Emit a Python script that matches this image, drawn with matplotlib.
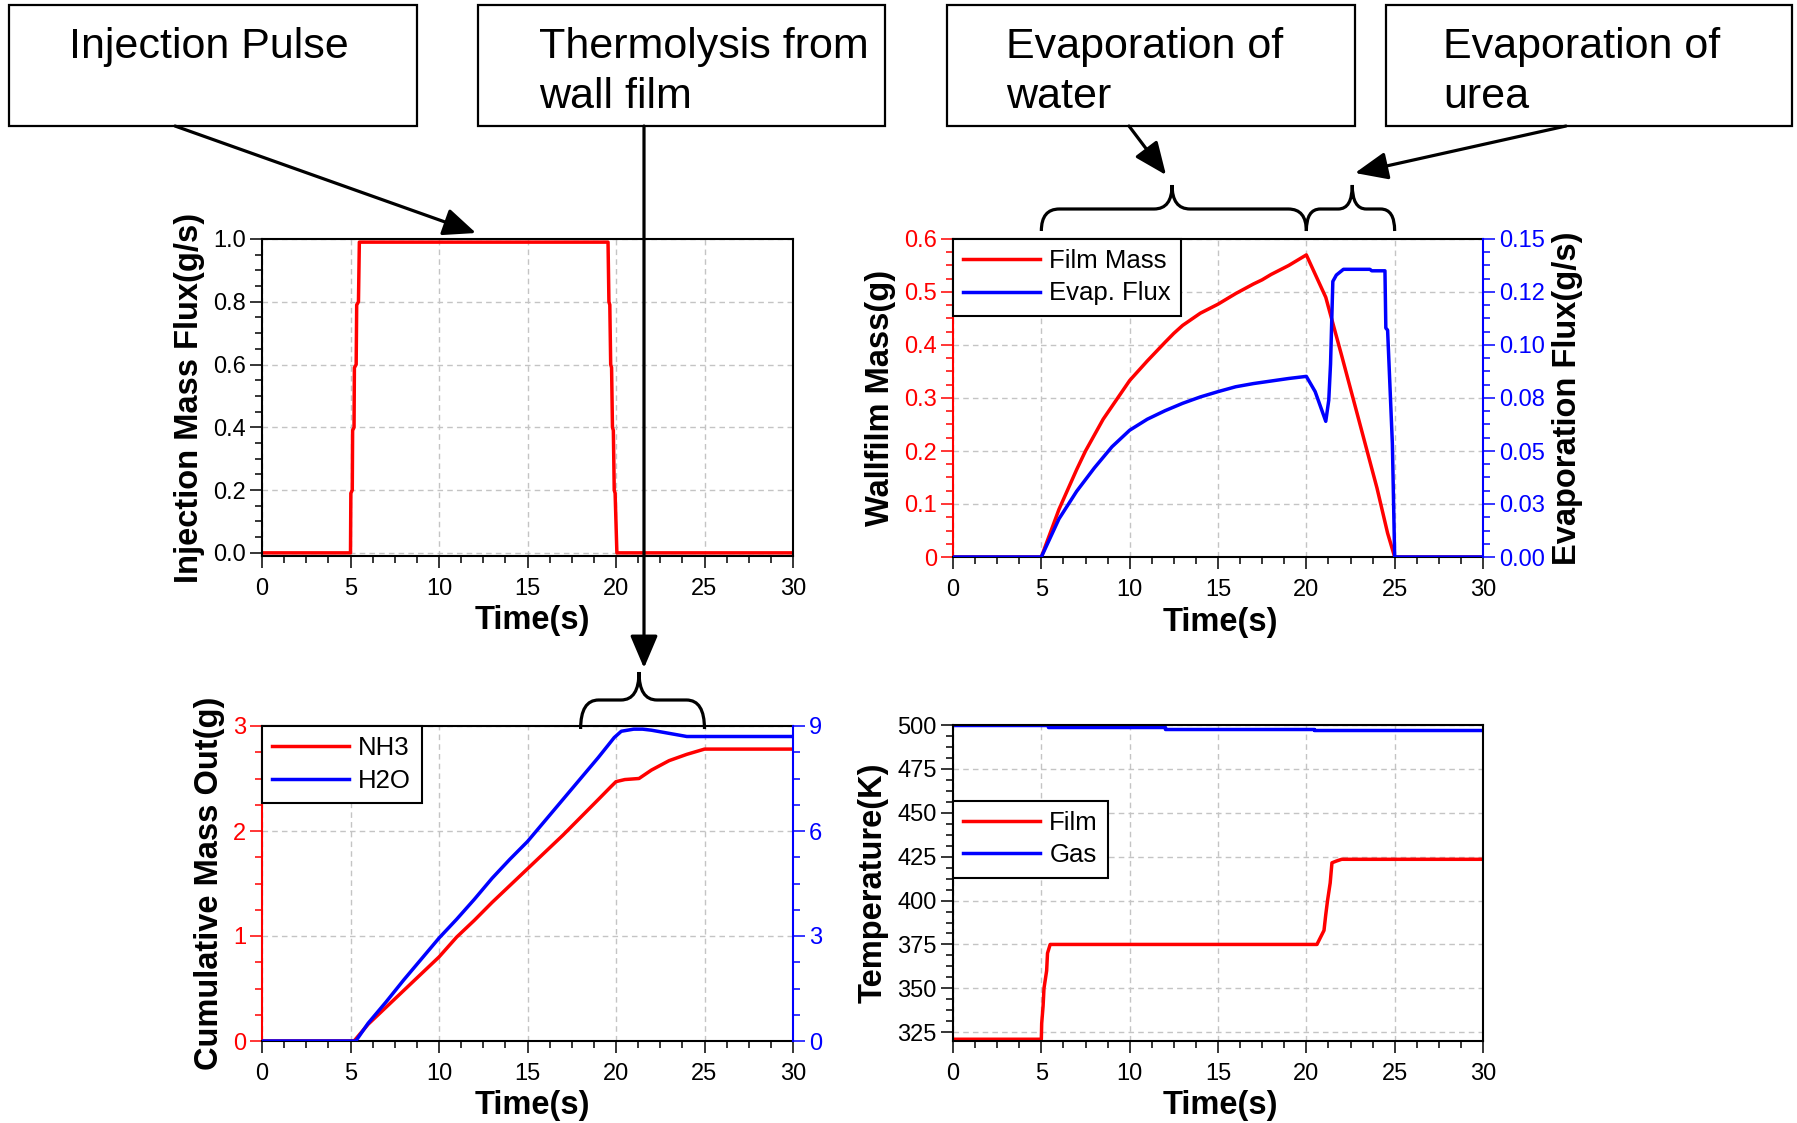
import matplotlib
matplotlib.use("Agg")
import matplotlib.pyplot as plt
from matplotlib.ticker import MultipleLocator, FixedLocator, FixedFormatter
from matplotlib.patches import Rectangle, FancyArrowPatch, PathPatch, ArrowStyle
from matplotlib.path import Path

# ---------------- data ----------------
# Injection pulse (g/s)
inj_time = [0, 5.0, 5.02, 5.1, 5.12, 5.2, 5.22, 5.32, 5.35, 5.45, 5.5,
            19.55, 19.6, 19.65, 19.7, 19.75, 19.8, 19.85, 19.9, 19.95, 20.05, 30]
inj_flux = [0, 0, 0.19, 0.20, 0.39, 0.40, 0.59, 0.60, 0.79, 0.80, 0.99,
            0.99, 0.80, 0.79, 0.60, 0.59, 0.40, 0.39, 0.20, 0.19, 0, 0]

# Wall film mass (g)
film_time = [0, 5, 6, 7, 7.5, 8.5, 10, 11, 12, 12.5, 13, 14, 15, 16, 17, 17.5,
             18, 19, 20, 21.1, 22, 23, 24, 24.6, 25, 30]
film_mass = [0, 0, 0.09, 0.165, 0.2, 0.26, 0.333, 0.37, 0.405, 0.422, 0.437,
             0.46, 0.477, 0.497, 0.515, 0.523, 0.533, 0.55, 0.57, 0.49, 0.38,
             0.255, 0.13, 0.045, 0, 0]

# Evaporation flux (g/s)
evap_time = [0, 5, 5.5, 6, 7, 8, 9, 10, 11, 12, 13, 14, 15, 16, 17, 18, 19,
             20, 20.5, 21.1, 21.27, 21.37, 21.5, 21.7, 22.1, 23.6, 23.7,
             24.45, 24.5, 24.6, 24.87, 25, 30]
evap_flux = [0, 0, 0.009, 0.018, 0.031, 0.042, 0.052, 0.0598, 0.065, 0.069,
             0.0725, 0.0755, 0.078, 0.0803, 0.0818, 0.083, 0.0842, 0.0852,
             0.078, 0.064, 0.074, 0.091, 0.13, 0.133, 0.1357, 0.1357, 0.135,
             0.135, 0.108, 0.107, 0.0535, 0, 0]

# Cumulative mass out: NH3 on the left scale (g), H2O on the right scale
nh3_time = [0, 5.2, 6, 7, 8, 9, 10, 11, 12, 13, 14, 15, 16, 17, 18, 19, 19.7,
            20, 20.5, 21.3, 22, 23, 24, 25, 30]
nh3_mass = [0, 0, 0.16, 0.32, 0.48, 0.64, 0.80, 0.99, 1.15, 1.32, 1.48, 1.64,
            1.80, 1.96, 2.13, 2.30, 2.42, 2.47, 2.49, 2.50, 2.58, 2.67, 2.73,
            2.78, 2.78]
h2o_time = [0, 5.3, 6, 7, 8, 9, 10, 11, 12, 13, 14, 15, 16, 17, 18, 19, 19.9,
            20.3, 21, 21.5, 22, 23, 24, 30]
h2o_mass = [0, 0, 0.51, 1.11, 1.74, 2.34, 2.94, 3.48, 4.05, 4.65, 5.19, 5.70,
            6.30, 6.90, 7.50, 8.10, 8.67, 8.85, 8.91, 8.91, 8.88, 8.79, 8.70,
            8.70]

# Temperatures (K)
film_temp_time = [0, 5.0, 5.02, 5.1, 5.15, 5.3, 5.35, 5.5, 20.6, 20.8, 21.0,
                  21.1, 21.2, 21.35, 21.45, 21.7, 22.0, 30]
film_temp = [321, 321, 330, 340, 350, 360, 370, 375, 375, 379, 383, 392, 400,
             410, 421.5, 422.5, 423.5, 423.5]
gas_temp_time = [0, 5.35, 5.35, 12.0, 12.0, 20.45, 20.45, 30]
gas_temp = [500, 500, 499, 499, 498, 498, 497, 497]

x_ticks = [0, 5, 10, 15, 20, 25, 30]
inj_ticks = [0.0, 0.2, 0.4, 0.6, 0.8, 1.0]
inj_labels = ["0.0", "0.2", "0.4", "0.6", "0.8", "1.0"]
wall_ticks = [0, 0.1, 0.2, 0.3, 0.4, 0.5, 0.6]
wall_labels = ["0", "0.1", "0.2", "0.3", "0.4", "0.5", "0.6"]
evap_ticks = [0, 0.025, 0.05, 0.075, 0.1, 0.125, 0.15]
evap_labels = ["0.00", "0.03", "0.05", "0.08", "0.10", "0.12", "0.15"]
cum_ticks = [0, 1, 2, 3]
h2o_ticks = [0, 3, 6, 9]
temp_ticks = [325, 350, 375, 400, 425, 450, 475, 500]

# ---------------- style ----------------
W, H = 1797, 1123
RED = "#ff0000"
BLUE = "#0000ff"
REG = ["Liberation Sans", "DejaVu Sans"]
plt.rcParams["font.family"] = REG

TICK_FS = 17
LAB_FS = 23.5
LW = 2.5

fig = plt.figure(figsize=(W / 100, H / 100), dpi=100)
fig.patch.set_facecolor("white")


def px_rect(left, top, right, bottom):
    return [left / W, 1 - bottom / H, (right - left) / W, (bottom - top) / H]


def style_axes(ax):
    ax.set_xlim(0, 30)
    ax.xaxis.set_major_locator(FixedLocator(x_ticks))
    ax.xaxis.set_minor_locator(MultipleLocator(1.25))
    ax.tick_params(axis="x", which="major", direction="out", length=8.6,
                   width=1.1, labelsize=TICK_FS, pad=7)
    ax.tick_params(axis="x", which="minor", direction="out", length=5, width=1.1)
    ax.tick_params(axis="y", which="major", direction="out", length=8.6,
                   width=1.1, labelsize=TICK_FS, pad=3)
    ax.tick_params(axis="y", which="minor", direction="out", length=5, width=1.1)
    ax.tick_params(top=False, right=False, which="both")
    ax.grid(True, which="major", color="#c4c4c4", linestyle=(0, (4, 3)),
            linewidth=1.0)
    for s in ax.spines.values():
        s.set_linewidth(1.5)
        s.set_color("black")
    ax.set_axisbelow(True)


def xlabel(ax, xc):
    ax.set_xlabel("Time(s)", fontsize=LAB_FS, fontweight="bold", va="center")
    ax.xaxis.set_label_coords(xc, -0.205)


def ylabel(ax, text, xc):
    ax.set_ylabel(text, fontsize=LAB_FS, fontweight="bold", va="center")
    ax.yaxis.set_label_coords(xc, 0.5)


def legend(ax, handles, labels, anchor):
    leg = ax.legend(handles, labels, loc="upper left", bbox_to_anchor=anchor,
                    borderaxespad=0, fontsize=18.5, handlelength=3.0,
                    handletextpad=0.35, borderpad=0.4, labelspacing=0.32,
                    fancybox=False, framealpha=1, edgecolor="black")
    leg.get_frame().set_linewidth(1.5)
    return leg


# ---- panel 1: injection mass flux ----
ax1 = fig.add_axes(px_rect(262, 239, 793, 556))
style_axes(ax1)
ax1.plot(inj_time, inj_flux, color=RED, lw=LW)
ax1.set_ylim(-0.01, 1.0)
ax1.yaxis.set_major_locator(FixedLocator(inj_ticks))
ax1.yaxis.set_major_formatter(FixedFormatter(inj_labels))
ax1.yaxis.set_minor_locator(MultipleLocator(0.05))
xlabel(ax1, 0.51)
ylabel(ax1, "Injection Mass Flux(g/s)", -0.1356)

# ---- panel 2: wall film mass and evaporation flux ----
ax2 = fig.add_axes(px_rect(953, 239, 1483, 557))
style_axes(ax2)
ax2r = ax2.twinx()
l_film, = ax2.plot(film_time, film_mass, color=RED, lw=LW)
l_evap, = ax2r.plot(evap_time, evap_flux, color=BLUE, lw=LW)
ax2.set_ylim(0, 0.6)
ax2.yaxis.set_major_locator(FixedLocator(wall_ticks))
ax2.yaxis.set_major_formatter(FixedFormatter(wall_labels))
ax2.yaxis.set_minor_locator(MultipleLocator(0.025))
ax2.tick_params(axis="y", which="both", colors=RED)
ax2.spines["left"].set_color(RED)
ax2.spines["right"].set_visible(False)
ax2r.set_ylim(0, 0.15)
ax2r.yaxis.set_major_locator(FixedLocator(evap_ticks))
ax2r.yaxis.set_major_formatter(FixedFormatter(evap_labels))
ax2r.yaxis.set_minor_locator(MultipleLocator(0.00625))
ax2r.tick_params(axis="y", which="major", direction="out", length=8.6,
                 width=1.1, labelsize=TICK_FS, pad=3, colors=BLUE)
ax2r.tick_params(axis="y", which="minor", direction="out", length=5,
                 width=1.1, colors=BLUE)
for k in ("left", "top", "bottom"):
    ax2r.spines[k].set_visible(False)
ax2r.spines["right"].set_color(BLUE)
ax2r.spines["right"].set_linewidth(1.5)
xlabel(ax2, 0.505)
ylabel(ax2, "Wallfilm Mass(g)", -0.1377)
ax2r.set_ylabel("Evaporation Flux(g/s)", fontsize=LAB_FS, fontweight="bold",
                va="center", rotation=90)
ax2r.yaxis.set_label_coords(1.16, 0.5)
legend(ax2r, [l_film, l_evap], ["Film Mass", "Evap. Flux"], (0, 1))

# ---- panel 3: cumulative mass out ----
ax3 = fig.add_axes(px_rect(262, 726, 793, 1041))
style_axes(ax3)
ax3r = ax3.twinx()
l_nh3, = ax3.plot(nh3_time, nh3_mass, color=RED, lw=LW)
l_h2o, = ax3r.plot(h2o_time, h2o_mass, color=BLUE, lw=LW)
ax3.set_ylim(0, 3)
ax3.yaxis.set_major_locator(FixedLocator(cum_ticks))
ax3.yaxis.set_minor_locator(MultipleLocator(0.25))
ax3.tick_params(axis="y", which="both", colors=RED)
ax3.spines["left"].set_color(RED)
ax3.spines["right"].set_visible(False)
ax3r.set_ylim(0, 9)
ax3r.yaxis.set_major_locator(FixedLocator(h2o_ticks))
ax3r.yaxis.set_minor_locator(MultipleLocator(0.75))
ax3r.tick_params(axis="y", which="major", direction="out", length=8.6,
                 width=1.1, labelsize=TICK_FS, pad=3, colors=BLUE)
ax3r.tick_params(axis="y", which="minor", direction="out", length=5,
                 width=1.1, colors=BLUE)
for k in ("left", "top", "bottom"):
    ax3r.spines[k].set_visible(False)
ax3r.spines["right"].set_color(BLUE)
ax3r.spines["right"].set_linewidth(1.5)
xlabel(ax3, 0.51)
ylabel(ax3, "Cumulative Mass Out(g)", -0.098)
legend(ax3r, [l_nh3, l_h2o], ["NH3", "H2O"], (0, 1))

# ---- panel 4: temperatures ----
ax4 = fig.add_axes(px_rect(953, 725, 1483, 1041))
style_axes(ax4)
l_ft, = ax4.plot(film_temp_time, film_temp, color=RED, lw=LW)
l_gt, = ax4.plot(gas_temp_time, gas_temp, color=BLUE, lw=LW)
ax4.set_ylim(320, 500)
ax4.yaxis.set_major_locator(FixedLocator(temp_ticks))
ax4.yaxis.set_minor_locator(MultipleLocator(6.25))
xlabel(ax4, 0.505)
ylabel(ax4, "Temperature(K)", -0.151)
legend(ax4, [l_ft, l_gt], ["Film", "Gas"], (0, 0.76))


# ---------------- callouts ----------------
def fpt(x, y):
    return (x / W, 1 - y / H)


def box(left, right, top=5, bottom=126):
    fig.add_artist(Rectangle(fpt(left, bottom), (right - left) / W,
                             (bottom - top) / H, transform=fig.transFigure,
                             facecolor="white", edgecolor="black", lw=1.6))


def box_text(x, y, s):
    fig.text(x / W, 1 - y / H, s, fontsize=31, ha="left", va="baseline")


def arrow(tail, tip):
    st = ArrowStyle("-|>", head_length=2.0, head_width=0.85)
    fig.add_artist(FancyArrowPatch(fpt(*tail), fpt(*tip),
                                   transform=fig.transFigure, arrowstyle=st,
                                   mutation_scale=10, lw=2.3, color="black",
                                   shrinkA=0, shrinkB=0))


def brace(ax, x0, x1, xm, y_end, y_mid, y_tip, r=18):
    """Curly brace over the data span [x0, x1] with its point at xm."""
    px0 = ax.transData.transform((x0, 0))[0]
    px1 = ax.transData.transform((x1, 0))[0]
    pxm = ax.transData.transform((xm, 0))[0]
    y_end, y_mid, y_tip = H - y_end, H - y_mid, H - y_tip
    verts = [(px0, y_end), (px0, y_mid), (px0 + r, y_mid),
             (pxm - r, y_mid), (pxm, y_mid), (pxm, y_tip),
             (pxm, y_mid), (pxm + r, y_mid),
             (px1 - r, y_mid), (px1, y_mid), (px1, y_end)]
    codes = [Path.MOVETO, Path.CURVE3, Path.CURVE3,
             Path.LINETO, Path.CURVE3, Path.CURVE3,
             Path.CURVE3, Path.CURVE3,
             Path.LINETO, Path.CURVE3, Path.CURVE3]
    verts = [(vx / W, vy / H) for vx, vy in verts]
    fig.add_artist(PathPatch(Path(verts, codes), transform=fig.transFigure,
                             facecolor="none", edgecolor="black", lw=2.3))


box(9, 417)
box(478, 885)
box(947, 1355)
box(1386, 1792)
box_text(69, 58, "Injection Pulse")
box_text(539, 58, "Thermolysis from")
box_text(539, 108, "wall film")
box_text(1006, 58, "Evaporation of")
box_text(1006, 108, "water")
box_text(1443, 58, "Evaporation of")
box_text(1443, 108, "urea")

arrow((175, 126), (476, 233))
arrow((644, 126), (644, 668))
arrow((1129, 126), (1166, 175))
arrow((1566, 126), (1355, 173))

brace(ax2, 5, 20, 12.4, 231, 209, 185)
brace(ax2, 20, 25, 22.6, 231, 209, 185, r=14)
brace(ax3, 18, 25, 21.3, 729, 700, 672)

fig.savefig("out.png", dpi=100, facecolor="white")
